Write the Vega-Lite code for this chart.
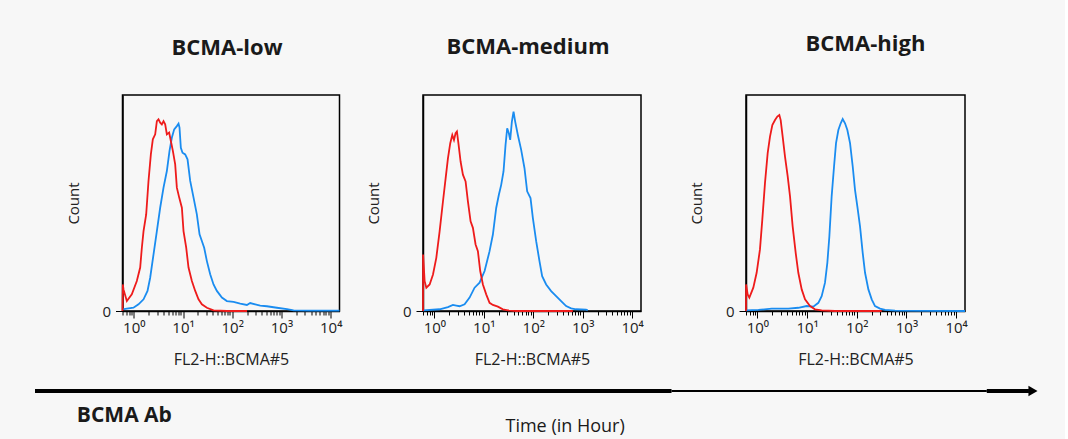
{
  "$schema": "https://vega.github.io/schema/vega-lite/v6.json",
  "background": "#f7f7f7",
  "padding": {"left": 33, "top": 32, "right": 26, "bottom": 4},
  "config": {
    "view": {"stroke": "black", "strokeWidth": 1.5},
    "font": "Open Sans",
    "axis": {"labelFont": "Open Sans", "titleFont": "Open Sans"}
  },
  "datasets": {
    "flow": [
      {"panel":"low","series":"blue","fl2":0.59,"count":0.8},{"panel":"low","series":"blue","fl2":0.723,"count":1.1},{"panel":"low","series":"blue","fl2":0.986,"count":1.5},{"panel":"low","series":"blue","fl2":1.247,"count":3.1},{"panel":"low","series":"blue","fl2":1.578,"count":5.4},{"panel":"low","series":"blue","fl2":1.901,"count":9.3},{"panel":"low","series":"blue","fl2":2.153,"count":15.4},{"panel":"low","series":"blue","fl2":2.518,"count":26.2},{"panel":"low","series":"blue","fl2":2.944,"count":37.0},{"panel":"low","series":"blue","fl2":3.436,"count":47.8},{"panel":"low","series":"blue","fl2":4.018,"count":57.1},{"panel":"low","series":"blue","fl2":4.699,"count":64.8},{"panel":"low","series":"blue","fl2":5.321,"count":74.1},{"panel":"low","series":"blue","fl2":5.929,"count":80.2},{"panel":"low","series":"blue","fl2":6.622,"count":84.1},{"panel":"low","series":"blue","fl2":7.499,"count":85.6},{"panel":"low","series":"blue","fl2":8.11,"count":86.7},{"panel":"low","series":"blue","fl2":8.492,"count":84.9},{"panel":"low","series":"blue","fl2":9.036,"count":75.6},{"panel":"low","series":"blue","fl2":9.772,"count":73.3},{"panel":"low","series":"blue","fl2":11.07,"count":72.5},{"panel":"low","series":"blue","fl2":12.36,"count":70.2},{"panel":"low","series":"blue","fl2":14.0,"count":60.2},{"panel":"low","series":"blue","fl2":16.37,"count":52.5},{"panel":"low","series":"blue","fl2":19.1,"count":44.7},{"panel":"low","series":"blue","fl2":21.67,"count":35.5},{"panel":"low","series":"blue","fl2":24.15,"count":32.4},{"panel":"low","series":"blue","fl2":26.92,"count":29.3},{"panel":"low","series":"blue","fl2":30.55,"count":23.1},{"panel":"low","series":"blue","fl2":35.65,"count":17.0},{"panel":"low","series":"blue","fl2":41.69,"count":12.3},{"panel":"low","series":"blue","fl2":48.75,"count":9.3},{"panel":"low","series":"blue","fl2":61.66,"count":6.2},{"panel":"low","series":"blue","fl2":77.8,"count":4.6},{"panel":"low","series":"blue","fl2":106.4,"count":4.2},{"panel":"low","series":"blue","fl2":145.2,"count":3.4},{"panel":"low","series":"blue","fl2":198.6,"count":2.8},{"panel":"low","series":"blue","fl2":231.7,"count":3.7},{"panel":"low","series":"blue","fl2":293.1,"count":3.1},{"panel":"low","series":"blue","fl2":369.8,"count":2.5},{"panel":"low","series":"blue","fl2":505.8,"count":2.2},{"panel":"low","series":"blue","fl2":807.2,"count":1.5},{"panel":"low","series":"blue","fl2":1291,"count":0.9},{"panel":"low","series":"blue","fl2":1762,"count":0.3},{"panel":"low","series":"blue","fl2":3846,"count":0.15},{"panel":"low","series":"blue","fl2":15100,"count":0.15},
      {"panel":"low","series":"red","fl2":0.59,"count":0},{"panel":"low","series":"red","fl2":0.6,"count":12.3},{"panel":"low","series":"red","fl2":0.618,"count":10.0},{"panel":"low","series":"red","fl2":0.723,"count":4.6},{"panel":"low","series":"red","fl2":0.912,"count":7.7},{"panel":"low","series":"red","fl2":1.153,"count":13.9},{"panel":"low","series":"red","fl2":1.349,"count":20.1},{"panel":"low","series":"red","fl2":1.459,"count":29.3},{"panel":"low","series":"red","fl2":1.578,"count":37.0},{"panel":"low","series":"red","fl2":1.786,"count":44.7},{"panel":"low","series":"red","fl2":1.991,"count":60.2},{"panel":"low","series":"red","fl2":2.223,"count":72.5},{"panel":"low","series":"red","fl2":2.438,"count":79.5},{"panel":"low","series":"red","fl2":2.722,"count":81.8},{"panel":"low","series":"red","fl2":2.944,"count":87.9},{"panel":"low","series":"red","fl2":3.177,"count":88.7},{"panel":"low","series":"red","fl2":3.436,"count":87.2},{"panel":"low","series":"red","fl2":3.715,"count":86.4},{"panel":"low","series":"red","fl2":4.018,"count":87.9},{"panel":"low","series":"red","fl2":4.345,"count":86.4},{"panel":"low","series":"red","fl2":4.699,"count":81.8},{"panel":"low","series":"red","fl2":5.236,"count":82.6},{"panel":"low","series":"red","fl2":5.662,"count":78.7},{"panel":"low","series":"red","fl2":6.223,"count":74.1},{"panel":"low","series":"red","fl2":6.934,"count":67.9},{"panel":"low","series":"red","fl2":7.499,"count":57.1},{"panel":"low","series":"red","fl2":8.375,"count":52.5},{"panel":"low","series":"red","fl2":9.484,"count":47.8},{"panel":"low","series":"red","fl2":10.24,"count":37.0},{"panel":"low","series":"red","fl2":11.61,"count":29.3},{"panel":"low","series":"red","fl2":12.94,"count":20.1},{"panel":"low","series":"red","fl2":15.14,"count":13.9},{"panel":"low","series":"red","fl2":17.7,"count":9.3},{"panel":"low","series":"red","fl2":20.65,"count":5.4},{"panel":"low","series":"red","fl2":24.15,"count":3.1},{"panel":"low","series":"red","fl2":30.55,"count":1.5},{"panel":"low","series":"red","fl2":41.7,"count":0.3},{"panel":"low","series":"red","fl2":77.8,"count":0},{"panel":"low","series":"red","fl2":200,"count":0},
      {"panel":"medium","series":"blue","fl2":0.59,"count":0.3},{"panel":"medium","series":"blue","fl2":1.279,"count":0.8},{"panel":"medium","series":"blue","fl2":1.884,"count":1.8},{"panel":"medium","series":"blue","fl2":2.377,"count":2.8},{"panel":"medium","series":"blue","fl2":2.78,"count":2.5},{"panel":"medium","series":"blue","fl2":3.243,"count":2.2},{"panel":"medium","series":"blue","fl2":4.093,"count":3.1},{"panel":"medium","series":"blue","fl2":5.164,"count":6.2},{"panel":"medium","series":"blue","fl2":6.516,"count":10.8},{"panel":"medium","series":"blue","fl2":8.222,"count":13.1},{"panel":"medium","series":"blue","fl2":10.38,"count":18.5},{"panel":"medium","series":"blue","fl2":13.09,"count":27.7},{"panel":"medium","series":"blue","fl2":15.28,"count":35.4},{"panel":"medium","series":"blue","fl2":17.82,"count":47.7},{"panel":"medium","series":"blue","fl2":20.18,"count":53.8},{"panel":"medium","series":"blue","fl2":22.49,"count":58.4},{"panel":"medium","series":"blue","fl2":25.06,"count":64.6},{"panel":"medium","series":"blue","fl2":27.54,"count":76.9},{"panel":"medium","series":"blue","fl2":29.72,"count":84.6},{"panel":"medium","series":"blue","fl2":32.14,"count":82.3},{"panel":"medium","series":"blue","fl2":34.2,"count":79.2},{"panel":"medium","series":"blue","fl2":36.98,"count":87.7},{"panel":"medium","series":"blue","fl2":39.99,"count":92.3},{"panel":"medium","series":"blue","fl2":43.15,"count":87.7},{"panel":"medium","series":"blue","fl2":48.87,"count":81.5},{"panel":"medium","series":"blue","fl2":57.02,"count":74.6},{"panel":"medium","series":"blue","fl2":66.53,"count":66.1},{"panel":"medium","series":"blue","fl2":75.34,"count":55.4},{"panel":"medium","series":"blue","fl2":88.1,"count":52.3},{"panel":"medium","series":"blue","fl2":98.17,"count":43.1},{"panel":"medium","series":"blue","fl2":114.6,"count":32.3},{"panel":"medium","series":"blue","fl2":133.7,"count":23.1},{"panel":"medium","series":"blue","fl2":151.4,"count":16.1},{"panel":"medium","series":"blue","fl2":182.4,"count":12.3},{"panel":"medium","series":"blue","fl2":230.1,"count":9.2},{"panel":"medium","series":"blue","fl2":290.4,"count":6.9},{"panel":"medium","series":"blue","fl2":366.4,"count":4.6},{"panel":"medium","series":"blue","fl2":462.4,"count":2.3},{"panel":"medium","series":"blue","fl2":583.4,"count":1.2},{"panel":"medium","series":"blue","fl2":736.2,"count":0.8},{"panel":"medium","series":"blue","fl2":1172,"count":0.6},{"panel":"medium","series":"blue","fl2":1265,"count":0.3},
      {"panel":"medium","series":"red","fl2":0.59,"count":0},{"panel":"medium","series":"red","fl2":0.592,"count":26.1},{"panel":"medium","series":"red","fl2":0.637,"count":13.8},{"panel":"medium","series":"red","fl2":0.689,"count":10.8},{"panel":"medium","series":"red","fl2":0.804,"count":12.3},{"panel":"medium","series":"red","fl2":0.94,"count":16.9},{"panel":"medium","series":"red","fl2":1.096,"count":24.6},{"panel":"medium","series":"red","fl2":1.279,"count":36.9},{"panel":"medium","series":"red","fl2":1.496,"count":50.8},{"panel":"medium","series":"red","fl2":1.694,"count":61.5},{"panel":"medium","series":"red","fl2":1.884,"count":70.7},{"panel":"medium","series":"red","fl2":2.099,"count":77.7},{"panel":"medium","series":"red","fl2":2.307,"count":81.5},{"panel":"medium","series":"red","fl2":2.495,"count":79.2},{"panel":"medium","series":"red","fl2":2.692,"count":82.3},{"panel":"medium","series":"red","fl2":2.864,"count":83.1},{"panel":"medium","series":"red","fl2":3.097,"count":76.9},{"panel":"medium","series":"red","fl2":3.396,"count":69.2},{"panel":"medium","series":"red","fl2":3.784,"count":63.1},{"panel":"medium","series":"red","fl2":4.285,"count":60.0},{"panel":"medium","series":"red","fl2":4.775,"count":50.8},{"panel":"medium","series":"red","fl2":5.408,"count":41.5},{"panel":"medium","series":"red","fl2":6.026,"count":38.5},{"panel":"medium","series":"red","fl2":6.823,"count":30.8},{"panel":"medium","series":"red","fl2":7.603,"count":27.7},{"panel":"medium","series":"red","fl2":8.472,"count":18.5},{"panel":"medium","series":"red","fl2":9.594,"count":12.3},{"panel":"medium","series":"red","fl2":11.19,"count":7.7},{"panel":"medium","series":"red","fl2":13.09,"count":3.8},{"panel":"medium","series":"red","fl2":15.28,"count":2.8},{"panel":"medium","series":"red","fl2":19.28,"count":2.0},{"panel":"medium","series":"red","fl2":24.32,"count":0.8},{"panel":"medium","series":"red","fl2":30.76,"count":0.3},{"panel":"medium","series":"red","fl2":45.2,"count":0},{"panel":"medium","series":"red","fl2":631,"count":0},
      {"panel":"high","series":"blue","fl2":0.59,"count":0.3},{"panel":"high","series":"blue","fl2":1.047,"count":0.5},{"panel":"high","series":"blue","fl2":1.941,"count":1.1},{"panel":"high","series":"blue","fl2":4.198,"count":1.1},{"panel":"high","series":"blue","fl2":6.668,"count":1.5},{"panel":"high","series":"blue","fl2":9.817,"count":2.3},{"panel":"high","series":"blue","fl2":13.37,"count":2.0},{"panel":"high","series":"blue","fl2":16.87,"count":3.8},{"panel":"high","series":"blue","fl2":19.68,"count":6.9},{"panel":"high","series":"blue","fl2":22.96,"count":13.1},{"panel":"high","series":"blue","fl2":25.59,"count":22.3},{"panel":"high","series":"blue","fl2":28.12,"count":34.6},{"panel":"high","series":"blue","fl2":31.26,"count":53.1},{"panel":"high","series":"blue","fl2":34.91,"count":66.9},{"panel":"high","series":"blue","fl2":38.28,"count":77.7},{"panel":"high","series":"blue","fl2":42.66,"count":83.8},{"panel":"high","series":"blue","fl2":47.53,"count":86.9},{"panel":"high","series":"blue","fl2":52.12,"count":88.9},{"panel":"high","series":"blue","fl2":58.08,"count":86.9},{"panel":"high","series":"blue","fl2":64.71,"count":83.8},{"panel":"high","series":"blue","fl2":73.28,"count":77.7},{"panel":"high","series":"blue","fl2":82.99,"count":66.9},{"panel":"high","series":"blue","fl2":92.25,"count":56.1},{"panel":"high","series":"blue","fl2":102.8,"count":48.4},{"panel":"high","series":"blue","fl2":116.4,"count":39.2},{"panel":"high","series":"blue","fl2":131.8,"count":26.9},{"panel":"high","series":"blue","fl2":146.9,"count":17.7},{"panel":"high","series":"blue","fl2":171.4,"count":10.0},{"panel":"high","series":"blue","fl2":200.0,"count":5.4},{"panel":"high","series":"blue","fl2":233.3,"count":2.3},{"panel":"high","series":"blue","fl2":294.4,"count":1.1},{"panel":"high","series":"blue","fl2":371.5,"count":0.5},{"panel":"high","series":"blue","fl2":590.2,"count":0.15},{"panel":"high","series":"blue","fl2":15100,"count":0},
      {"panel":"high","series":"red","fl2":0.59,"count":0},{"panel":"high","series":"red","fl2":0.592,"count":12.3},{"panel":"high","series":"red","fl2":0.637,"count":7.7},{"panel":"high","series":"red","fl2":0.689,"count":6.2},{"panel":"high","series":"red","fl2":0.828,"count":10.8},{"panel":"high","series":"red","fl2":0.966,"count":17.7},{"panel":"high","series":"red","fl2":1.127,"count":28.5},{"panel":"high","series":"red","fl2":1.256,"count":42.3},{"panel":"high","series":"red","fl2":1.422,"count":59.2},{"panel":"high","series":"red","fl2":1.611,"count":73.1},{"panel":"high","series":"red","fl2":1.795,"count":80.7},{"panel":"high","series":"red","fl2":2.0,"count":86.1},{"panel":"high","series":"red","fl2":2.265,"count":88.4},{"panel":"high","series":"red","fl2":2.518,"count":90.0},{"panel":"high","series":"red","fl2":2.767,"count":90.7},{"panel":"high","series":"red","fl2":2.944,"count":88.4},{"panel":"high","series":"red","fl2":3.228,"count":80.7},{"panel":"high","series":"red","fl2":3.597,"count":71.5},{"panel":"high","series":"red","fl2":4.074,"count":62.3},{"panel":"high","series":"red","fl2":4.539,"count":53.1},{"panel":"high","series":"red","fl2":5.129,"count":39.2},{"panel":"high","series":"red","fl2":5.902,"count":26.9},{"panel":"high","series":"red","fl2":6.668,"count":17.7},{"panel":"high","series":"red","fl2":7.798,"count":10.0},{"panel":"high","series":"red","fl2":9.099,"count":5.4},{"panel":"high","series":"red","fl2":11.46,"count":2.3},{"panel":"high","series":"red","fl2":14.45,"count":0.8},{"panel":"high","series":"red","fl2":19.68,"count":0.3},{"panel":"high","series":"red","fl2":36.56,"count":0},{"panel":"high","series":"red","fl2":317.7,"count":0}
    ]
  },
  "vconcat": [
    {
      "hconcat": [
        {
          "width": 7, "height": 10,
          "view": {"stroke": null},
          "data": {"values": [{"gap": 0}]},
          "mark": {"type": "rule", "opacity": 0},
          "encoding": {}
        },
        {
          "hconcat": [
            {
              "hconcat": [
                {
                  "width": 217, "height": 216,
                  "title": {"text": "BCMA-low", "font": "Open Sans", "fontSize": 22, "fontWeight": "bold", "color": "#1a1a1a", "frame": "group", "anchor": "middle", "offset": 35, "dx": -4},
                  "data": {"name": "flow"},
                  "transform": [{"filter": "datum.panel == 'low'"}],
                  "mark": {"type": "line", "strokeWidth": 1.8},
                  "encoding": {
                    "x": {"field": "fl2", "type": "quantitative", "scale": {"type": "log", "domain": [0.59, 15100], "nice": false},
                      "axis": {"values": [0.6,0.7,0.8,0.9,1,2,3,4,5,6,7,8,9,10,20,30,40,50,60,70,80,90,100,200,300,400,500,600,700,800,900,1000,2000,3000,4000,5000,6000,7000,8000,9000,10000],
                        "labelExpr": "datum.value == 1 ? '10⁰' : datum.value == 10 ? '10¹' : datum.value == 100 ? '10²' : datum.value == 1000 ? '10³' : datum.value == 10000 ? '10⁴' : ''",
                        "tickSize": {"condition": {"test": "datum.value == 1 || datum.value == 10 || datum.value == 100 || datum.value == 1000 || datum.value == 10000", "value": 7}, "value": 4},
                        "tickColor": "black", "domainColor": "black", "domainWidth": 1.5, "labelOverlap": false, "labelFlush": false, "labelBound": false, "labelFontSize": 15, "labelColor": "#222", "labelPadding": 2, "grid": false,
                        "title": "FL2-H::BCMA#5", "titleFontSize": 16, "titleFontWeight": "normal", "titleColor": "#222", "titlePadding": 16}},
                    "y": {"field": "count", "type": "quantitative", "scale": {"domain": [0, 100], "nice": false},
                      "axis": {"values": [0], "title": "Count", "titleFontSize": 15, "titleFontWeight": "normal", "titleColor": "#222", "titlePadding": 20.5, "labelFontSize": 15, "labelColor": "#222", "labelPadding": 5, "tickSize": 7, "tickColor": "black", "domainColor": "black", "domainWidth": 1.5, "grid": false}},
                    "color": {"field": "series", "type": "nominal", "scale": {"domain": ["blue", "red"], "range": ["#1a8cf0", "#ee1b1b"]}, "legend": null}
                  }
                },
                {
                  "width": 218, "height": 216,
                  "title": {"text": "BCMA-medium", "font": "Open Sans", "fontSize": 22, "fontWeight": "bold", "color": "#1a1a1a", "frame": "group", "anchor": "middle", "offset": 36, "dx": -4},
                  "data": {"name": "flow"},
                  "transform": [{"filter": "datum.panel == 'medium'"}],
                  "mark": {"type": "line", "strokeWidth": 1.8},
                  "encoding": {
                    "x": {"field": "fl2", "type": "quantitative", "scale": {"type": "log", "domain": [0.59, 15100], "nice": false},
                      "axis": {"values": [0.6,0.7,0.8,0.9,1,2,3,4,5,6,7,8,9,10,20,30,40,50,60,70,80,90,100,200,300,400,500,600,700,800,900,1000,2000,3000,4000,5000,6000,7000,8000,9000,10000],
                        "labelExpr": "datum.value == 1 ? '10⁰' : datum.value == 10 ? '10¹' : datum.value == 100 ? '10²' : datum.value == 1000 ? '10³' : datum.value == 10000 ? '10⁴' : ''",
                        "tickSize": {"condition": {"test": "datum.value == 1 || datum.value == 10 || datum.value == 100 || datum.value == 1000 || datum.value == 10000", "value": 7}, "value": 4},
                        "tickColor": "black", "domainColor": "black", "domainWidth": 1.5, "labelOverlap": false, "labelFlush": false, "labelBound": false, "labelFontSize": 15, "labelColor": "#222", "labelPadding": 2, "grid": false,
                        "title": "FL2-H::BCMA#5", "titleFontSize": 16, "titleFontWeight": "normal", "titleColor": "#222", "titlePadding": 16}},
                    "y": {"field": "count", "type": "quantitative", "scale": {"domain": [0, 100], "nice": false},
                      "axis": {"values": [0], "title": "Count", "titleFontSize": 15, "titleFontWeight": "normal", "titleColor": "#222", "titlePadding": 20.5, "labelFontSize": 15, "labelColor": "#222", "labelPadding": 5, "tickSize": 7, "tickColor": "black", "domainColor": "black", "domainWidth": 1.5, "grid": false}},
                    "color": {"field": "series", "type": "nominal", "scale": {"domain": ["blue", "red"], "range": ["#1a8cf0", "#ee1b1b"]}, "legend": null}
                  }
                }
              ],
              "spacing": 21.5
            },
            {
              "width": 219, "height": 216,
              "title": {"text": "BCMA-high", "font": "Open Sans", "fontSize": 22, "fontWeight": "bold", "color": "#1a1a1a", "frame": "group", "anchor": "middle", "offset": 39, "dx": 10},
              "data": {"name": "flow"},
              "transform": [{"filter": "datum.panel == 'high'"}],
              "mark": {"type": "line", "strokeWidth": 1.8},
              "encoding": {
                "x": {"field": "fl2", "type": "quantitative", "scale": {"type": "log", "domain": [0.59, 15100], "nice": false},
                  "axis": {"values": [0.6,0.7,0.8,0.9,1,2,3,4,5,6,7,8,9,10,20,30,40,50,60,70,80,90,100,200,300,400,500,600,700,800,900,1000,2000,3000,4000,5000,6000,7000,8000,9000,10000],
                    "labelExpr": "datum.value == 1 ? '10⁰' : datum.value == 10 ? '10¹' : datum.value == 100 ? '10²' : datum.value == 1000 ? '10³' : datum.value == 10000 ? '10⁴' : ''",
                    "tickSize": {"condition": {"test": "datum.value == 1 || datum.value == 10 || datum.value == 100 || datum.value == 1000 || datum.value == 10000", "value": 7}, "value": 4},
                    "tickColor": "black", "domainColor": "black", "domainWidth": 1.5, "labelOverlap": false, "labelFlush": false, "labelBound": false, "labelFontSize": 15, "labelColor": "#222", "labelPadding": 2, "grid": false,
                    "title": "FL2-H::BCMA#5", "titleFontSize": 16, "titleFontWeight": "normal", "titleColor": "#222", "titlePadding": 16}},
                "y": {"field": "count", "type": "quantitative", "scale": {"domain": [0, 100], "nice": false},
                  "axis": {"values": [0], "title": "Count", "titleFontSize": 15, "titleFontWeight": "normal", "titleColor": "#222", "titlePadding": 20.5, "labelFontSize": 15, "labelColor": "#222", "labelPadding": 5, "tickSize": 7, "tickColor": "black", "domainColor": "black", "domainWidth": 1.5, "grid": false}},
                "color": {"field": "series", "type": "nominal", "scale": {"domain": ["blue", "red"], "range": ["#1a8cf0", "#ee1b1b"]}, "legend": null}
              }
            }
          ],
          "spacing": 44.5
        }
      ],
      "spacing": 23.5
    },
    {
      "width": 1004, "height": 50,
      "view": {"stroke": null},
      "layer": [
        {
          "data": {"values": [{"part": "thick", "start": 0, "end": 63.4, "level": 84}, {"part": "thin", "start": 63.4, "end": 94.8, "level": 84}, {"part": "thick", "start": 94.8, "end": 99, "level": 84}]},
          "mark": {"type": "rule", "strokeCap": "butt", "color": "black"},
          "encoding": {
            "x": {"field": "start", "type": "quantitative", "scale": {"domain": [0, 100], "nice": false, "zero": false}, "axis": null},
            "x2": {"field": "end"},
            "y": {"field": "level", "type": "quantitative", "scale": {"domain": [0, 100], "nice": false}, "axis": null},
            "size": {"field": "part", "type": "nominal", "scale": {"domain": ["thick", "thin"], "range": [4, 2]}, "legend": null}
          }
        },
        {
          "data": {"values": [{"tip": 99.4, "level": 84}]},
          "mark": {"type": "point", "shape": "triangle-right", "filled": true, "size": 110, "color": "black", "opacity": 1},
          "encoding": {
            "x": {"field": "tip", "type": "quantitative"},
            "y": {"field": "level", "type": "quantitative"}
          }
        },
        {
          "data": {"values": [{"label": "BCMA Ab", "pos": 8.9, "level": 34}]},
          "mark": {"type": "text", "font": "Open Sans", "fontSize": 21, "fontWeight": "bold", "color": "#1a1a1a"},
          "encoding": {
            "x": {"field": "pos", "type": "quantitative"},
            "y": {"field": "level", "type": "quantitative"},
            "text": {"field": "label"}
          }
        },
        {
          "data": {"values": [{"label": "Time (in Hour)", "pos": 52.8, "level": 12}]},
          "mark": {"type": "text", "font": "Open Sans", "fontSize": 18, "color": "#1a1a1a"},
          "encoding": {
            "x": {"field": "pos", "type": "quantitative"},
            "y": {"field": "level", "type": "quantitative"},
            "text": {"field": "label"}
          }
        }
      ]
    }
  ],
  "spacing": 15
}
